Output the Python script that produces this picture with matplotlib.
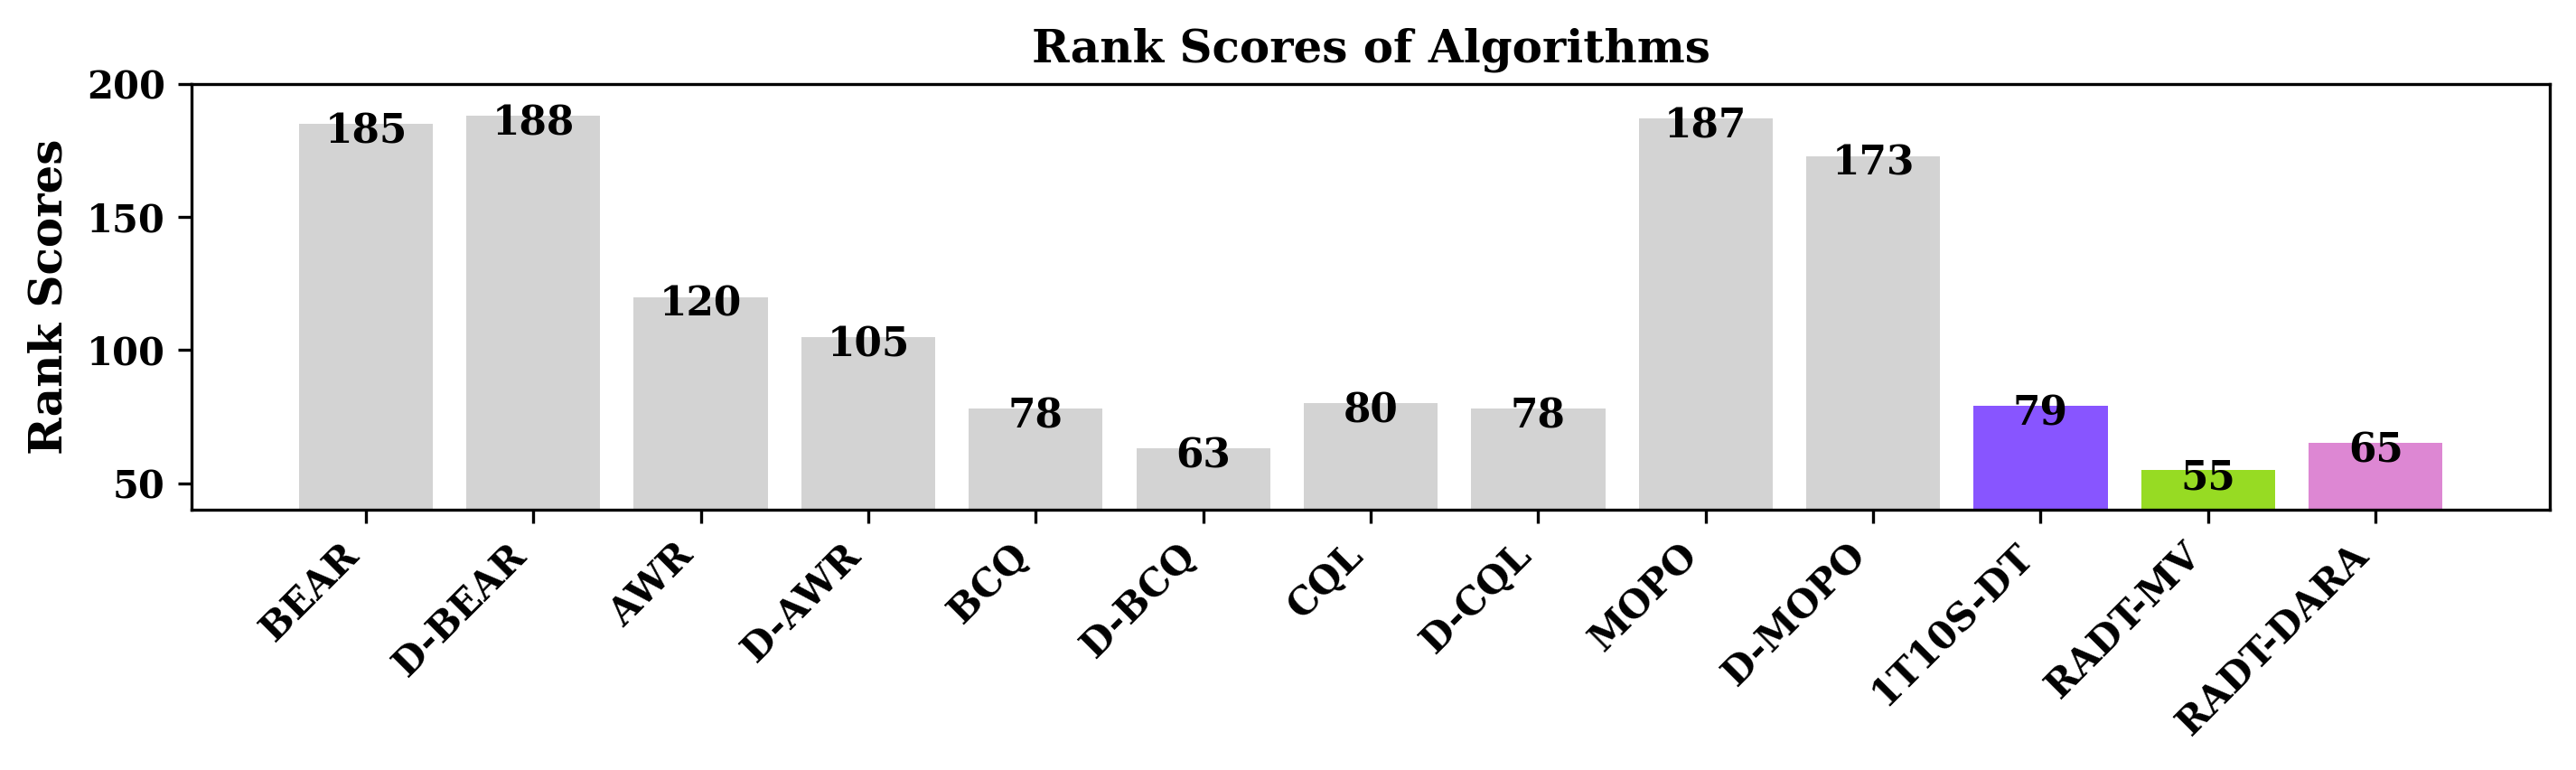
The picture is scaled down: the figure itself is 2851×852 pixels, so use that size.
import matplotlib
matplotlib.use("Agg")
import matplotlib.pyplot as plt

# Data
algorithms = ["BEAR", "D-BEAR", "AWR", "D-AWR", "BCQ", "D-BCQ", "CQL", "D-CQL",
              "MOPO", "D-MOPO", "1T10S-DT", "RADT-MV", "RADT-DARA"]
rank_scores = [185, 188, 120, 105, 78, 63, 80, 78, 187, 173, 79, 55, 65]
bar_colors = ["lightgray"] * 10 + ["#8855ff", "#97db23", "#dd87d3"]

plt.rcParams["font.family"] = "DejaVu Serif"
plt.rcParams["font.weight"] = "bold"

fig = plt.figure(figsize=(2851 / 300, 852 / 300), dpi=300)
ax = fig.add_subplot(111)
fig.subplots_adjust(left=0.0744, right=0.9898, top=0.8908, bottom=0.338)

x = range(len(algorithms))
ax.bar(x, rank_scores, color=bar_colors, width=0.8)

# Value labels on bars
for i, v in enumerate(rank_scores):
    ax.text(i, v - 3, str(v), ha="center", va="center",
            fontsize=10.5, fontweight="bold")

ax.set_xticks(list(x))
ax.set_xticklabels(algorithms, rotation=45, ha="right", fontsize=10, fontweight="bold")
ax.set_yticks([50, 100, 150, 200])
ax.set_yticklabels(["50", "100", "150", "200"], fontsize=10, fontweight="bold")
ax.set_ylim(40, 200)

ax.set_ylabel("Rank Scores", fontsize=12, fontweight="bold")
ax.set_title("Rank Scores of Algorithms", fontsize=12, fontweight="bold")

plt.savefig("out.png", dpi=300)
plt.close()
